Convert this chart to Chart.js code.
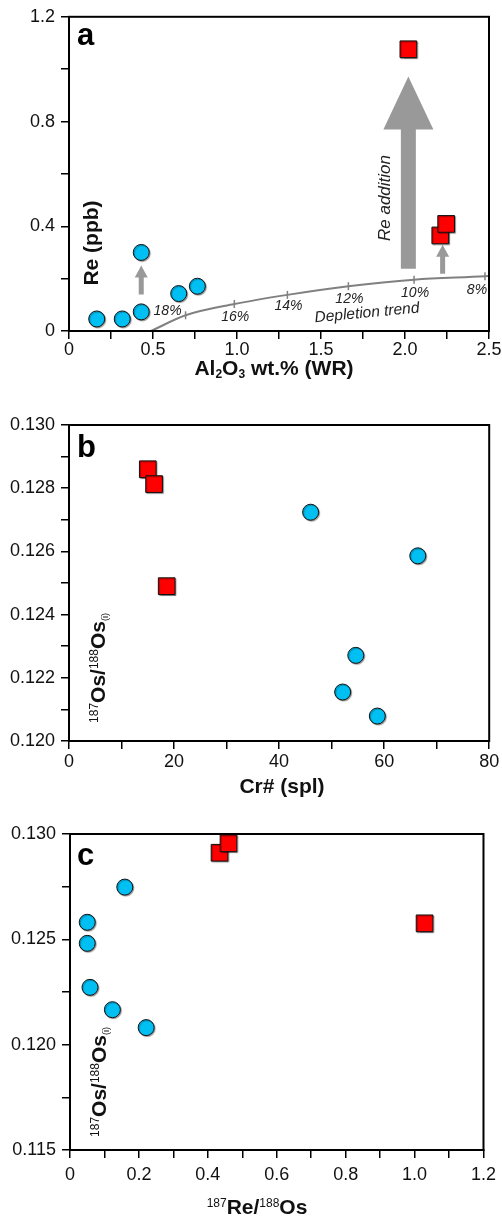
<!DOCTYPE html>
<html>
<head>
<meta charset="utf-8">
<script src="https://cdn.jsdelivr.net/npm/chart.js@4.4.0/dist/chart.umd.min.js"></script>
<style>
  html, body { margin: 0; padding: 0; background: #fff; }
  #wrap { position: relative; width: 502px; height: 1220px; }
  canvas { position: absolute; left: 0; display: block; }
</style>
</head>
<body>
<div id="wrap">
  <canvas id="chartA" width="502" height="390" style="top:0"></canvas>
  <canvas id="chartB" width="502" height="410" style="top:390px"></canvas>
  <canvas id="chartC" width="502" height="420" style="top:800px"></canvas>
</div>
<script>
// ============ DATA ============
// (a) Re vs Al2O3 (WR)
var aXTicks = ['0', '0.5', '1.0', '1.5', '2.0', '2.5'];
var aYTicks = ['0', '0.4', '0.8', '1.2'];
var aCircleAl = [0.165, 0.317, 0.43, 0.43, 0.653, 0.764];
var aCircleRe = [0.046, 0.046, 0.073, 0.300, 0.143, 0.171];
var aSquareAl = [2.02, 2.21, 2.245];
var aSquareRe = [1.076, 0.365, 0.409];
var trendAl = [0.488, 0.694, 0.984, 1.300, 1.663, 2.054, 2.476, 2.5];
var trendRe = [0, 0.060, 0.103, 0.138, 0.171, 0.196, 0.209, 0.210];
var trendLabels = ['', '18%', '16%', '14%', '12%', '10%', '8%', ''];
var arrowAl = [0.43, 2.224, 2.02];
var arrowFrom = [0.139, 0.219, 0.238];
var arrowTo = [0.250, 0.329, 0.972];

// (b) 187Os/188Os(i) vs Cr# (spl)
var bXTicks = ['0', '20', '40', '60', '80'];
var bYTicks = ['0.120', '0.122', '0.124', '0.126', '0.128', '0.130'];
var bCircleCr = [46.0, 66.4, 54.6, 52.1, 58.7];
var bCircleOs = [0.12724, 0.12586, 0.12271, 0.12155, 0.12079];
var bSquareCr = [15.0, 16.2, 18.6];
var bSquareOs = [0.12860, 0.12813, 0.12490];

// (c) 187Os/188Os(i) vs 187Re/188Os
var cXTicks = ['0', '0.2', '0.4', '0.6', '0.8', '1.0', '1.2'];
var cYTicks = ['0.115', '0.120', '0.125', '0.130'];
var cCircleRe = [0.050, 0.050, 0.058, 0.159, 0.123, 0.221];
var cCircleOs = [0.12581, 0.12481, 0.12272, 0.12748, 0.12166, 0.12081];
var cSquareRe = [0.434, 0.460, 1.029];
var cSquareOs = [0.12911, 0.12956, 0.12576];

// ============ HELPERS ============
var FONT = "'Liberation Sans', Arial, sans-serif";
var CYAN = '#00BFF3';
var RED = '#FF0000';
var GREY = '#999999';
Chart.defaults.font.family = FONT;
Chart.defaults.color = '#111';

function pts(xs, ys) {
  return xs.map(function(x, i) { return { x: x, y: ys[i] }; });
}

function stepTicks(min, max, step) {
  return function(scale) {
    var t = [];
    for (var v = min; v <= max + step / 2; v += step) t.push({ value: +v.toFixed(6) });
    scale.ticks = t;
  };
}

function linAxis(min, max, step, labels, size, pad) {
  return {
    type: 'linear', min: min, max: max,
    afterBuildTicks: stepTicks(min, max, step),
    afterFit: function(s) { if (s.isHorizontal()) s.height = size; else s.width = size; },
    border: { display: true, color: '#000', width: 2 },
    grid: { drawOnChartArea: false, drawTicks: true, tickLength: 8, color: '#000', lineWidth: 1.5 },
    ticks: {
      autoSkip: false, maxRotation: 0, padding: pad, color: '#111', font: { size: 18 },
      callback: function(v, i) { return i % 2 === 0 ? labels[i / 2] : ''; }
    }
  };
}

function circles(data) {
  return { data: data, pointStyle: 'circle', pointRadius: 8, backgroundColor: CYAN,
           borderColor: '#111', borderWidth: 1, shadow: true, clip: false, order: 2 };
}
function squares(data) {
  return { data: data, pointStyle: 'rect', pointRadius: 11.8, backgroundColor: RED,
           borderColor: '#111', borderWidth: 1, shadow: true, clip: false, order: 1 };
}

// rich text: parts = [text, size, bold, baselineOffset]
function richText(ctx, parts, cx, cy, rotate, italic) {
  ctx.save();
  ctx.translate(cx, cy);
  if (rotate) ctx.rotate(rotate);
  ctx.textAlign = 'left';
  ctx.textBaseline = 'alphabetic';
  ctx.fillStyle = '#111';
  var total = 0;
  parts.forEach(function(p) {
    ctx.font = (italic ? 'italic ' : '') + (p[2] ? 'bold ' : '') + p[1] + 'px ' + FONT;
    p.w = ctx.measureText(p[0]).width;
    total += p.w;
  });
  var x = -total / 2;
  parts.forEach(function(p) {
    ctx.font = (italic ? 'italic ' : '') + (p[2] ? 'bold ' : '') + p[1] + 'px ' + FONT;
    ctx.fillText(p[0], x, p[3]);
    x += p.w;
  });
  ctx.restore();
}

function drawArrow(ctx, x, y0, y1, shaft, headW, headL) {
  ctx.beginPath();
  ctx.moveTo(x - shaft / 2, y0);
  ctx.lineTo(x - shaft / 2, y1 + headL);
  ctx.lineTo(x - headW / 2, y1 + headL);
  ctx.lineTo(x, y1);
  ctx.lineTo(x + headW / 2, y1 + headL);
  ctx.lineTo(x + shaft / 2, y1 + headL);
  ctx.lineTo(x + shaft / 2, y0);
  ctx.closePath();
  ctx.fill();
}

var OS_TITLE = [['187', 12, false, 1], ['Os/', 21, true, 7.5], ['188', 12, false, 1],
                ['Os', 21, true, 7.5], ['(i)', 9, false, 11]];

// ============ PLUGINS ============
var framePlugin = {
  id: 'frame',
  afterDatasetsDraw: function(chart) {
    var a = chart.chartArea, ctx = chart.ctx;
    ctx.save();
    ctx.strokeStyle = '#000';
    ctx.lineWidth = 2;
    ctx.strokeRect(a.left, a.top, a.right - a.left, a.bottom - a.top);
    ctx.restore();
  }
};

var shadowPlugin = {
  id: 'shadow',
  beforeDatasetDraw: function(chart, args) {
    if (!chart.data.datasets[args.index].shadow) return;
    var c = chart.ctx;
    c.save();
    c.shadowColor = 'rgba(0,0,0,0.35)';
    c.shadowOffsetX = 1;
    c.shadowOffsetY = 1;
    c.shadowBlur = 1;
  },
  afterDatasetDraw: function(chart, args) {
    if (chart.data.datasets[args.index].shadow) chart.ctx.restore();
  }
};

function letter(ctx, t, x, y) {
  ctx.save();
  ctx.font = 'bold 31px ' + FONT;
  ctx.fillStyle = '#000';
  ctx.textBaseline = 'alphabetic';
  ctx.fillText(t, x, y);
  ctx.restore();
}

// ============ PANEL A ============
var panelAPlugin = {
  id: 'panelA',
  beforeDatasetsDraw: function(chart) {
    var ctx = chart.ctx, xs = chart.scales.x, ys = chart.scales.y;
    ctx.save();
    ctx.fillStyle = GREY;
    arrowAl.forEach(function(v, i) {
      var big = i === 2;
      drawArrow(ctx, xs.getPixelForValue(v), ys.getPixelForValue(arrowFrom[i]),
                ys.getPixelForValue(arrowTo[i]), big ? 15 : 5, big ? 50 : 13, big ? 53 : 12);
    });
    ctx.restore();
  },
  afterDraw: function(chart) {
    var ctx = chart.ctx;
    var meta = chart.getDatasetMeta(0);
    var offs = [null, [-18, -4], [1, 13], [1, 11], [1, 13], [1, 13], [-8, 14], null];
    ctx.save();
    ctx.fillStyle = '#222';
    ctx.font = 'italic 14px ' + FONT;
    ctx.textAlign = 'center';
    ctx.textBaseline = 'middle';
    trendLabels.forEach(function(lab, i) {
      if (!lab) return;
      var p = meta.data[i];
      ctx.fillText(lab, p.x + offs[i][0], p.y + offs[i][1]);
    });
    ctx.font = 'italic 15.5px ' + FONT;
    ctx.translate(367, 313);
    ctx.rotate(-5.4 * Math.PI / 180);
    ctx.fillText('Depletion trend', 0, 0);
    ctx.restore();

    ctx.save();
    ctx.fillStyle = '#222';
    ctx.font = 'italic 17px ' + FONT;
    ctx.textAlign = 'center';
    ctx.textBaseline = 'middle';
    ctx.translate(385, 198);
    ctx.rotate(-Math.PI / 2);
    ctx.fillText('Re addition', 0, 0);
    ctx.restore();

    letter(ctx, 'a', 77, 45);
    richText(ctx, [['Re (ppb)', 21, true, 7.5]], 90, 243, -Math.PI / 2);
    richText(ctx, [['Al', 21, true, 7.5], ['2', 12, true, 11], ['O', 21, true, 7.5],
                   ['3', 12, true, 11], [' wt.% (WR)', 21, true, 7.5]], 274, 367);
  }
};

new Chart(document.getElementById('chartA'), {
  type: 'scatter',
  data: {
    datasets: [
      {
        data: pts(trendAl, trendRe), showLine: true, borderColor: '#808080', borderWidth: 2,
        cubicInterpolationMode: 'monotone', pointStyle: 'line', rotation: 90,
        pointRadius: trendLabels.map(function(l) { return l ? 4 : 0; }),
        pointBorderColor: '#808080', pointBorderWidth: 1.5, clip: false, order: 3
      },
      circles(pts(aCircleAl, aCircleRe)),
      squares(pts(aSquareAl, aSquareRe))
    ]
  },
  options: {
    responsive: false, animation: false, events: [],
    layout: { padding: { top: 15, right: 13, left: 0, bottom: 0 } },
    plugins: { legend: { display: false }, tooltip: { enabled: false } },
    scales: {
      x: linAxis(0, 2.5, 0.25, aXTicks, 59, 0),
      y: linAxis(0, 1.2, 0.2, aYTicks, 69, 6)
    }
  },
  plugins: [shadowPlugin, framePlugin, panelAPlugin]
});

// ============ PANEL B ============
var panelBPlugin = {
  id: 'panelB',
  afterDraw: function(chart) {
    var ctx = chart.ctx;
    letter(ctx, 'b', 77, 67);
    richText(ctx, OS_TITLE, 97, 278, -Math.PI / 2);
    richText(ctx, [['Cr# (spl)', 21, true, 7.5]], 282, 395);
  }
};

new Chart(document.getElementById('chartB'), {
  type: 'scatter',
  data: { datasets: [circles(pts(bCircleCr, bCircleOs)), squares(pts(bSquareCr, bSquareOs))] },
  options: {
    responsive: false, animation: false, events: [],
    layout: { padding: { top: 35, right: 12, left: 0, bottom: 0 } },
    plugins: { legend: { display: false }, tooltip: { enabled: false } },
    scales: {
      x: linAxis(0, 80, 10, bXTicks, 59, 2),
      y: linAxis(0.120, 0.130, 0.001, bYTicks, 69, 6)
    }
  },
  plugins: [shadowPlugin, framePlugin, panelBPlugin]
});

// ============ PANEL C ============
var panelCPlugin = {
  id: 'panelC',
  afterDraw: function(chart) {
    var ctx = chart.ctx;
    letter(ctx, 'c', 77, 65);
    richText(ctx, OS_TITLE, 98, 282, -Math.PI / 2);
    richText(ctx, [['187', 12, false, 1], ['Re/', 21, true, 7.5], ['188', 12, false, 1],
                   ['Os', 21, true, 7.5]], 257, 406);
  }
};

new Chart(document.getElementById('chartC'), {
  type: 'scatter',
  data: { datasets: [circles(pts(cCircleRe, cCircleOs)), squares(pts(cSquareRe, cSquareOs))] },
  options: {
    responsive: false, animation: false, events: [],
    layout: { padding: { top: 34, right: 12, left: 0, bottom: 0 } },
    plugins: { legend: { display: false }, tooltip: { enabled: false } },
    scales: {
      x: linAxis(0, 1.2, 0.1, cXTicks, 70, 6),
      y: linAxis(0.115, 0.130, 0.0025, cYTicks, 70, 6)
    }
  },
  plugins: [shadowPlugin, framePlugin, panelCPlugin]
});
</script>
</body>
</html>
